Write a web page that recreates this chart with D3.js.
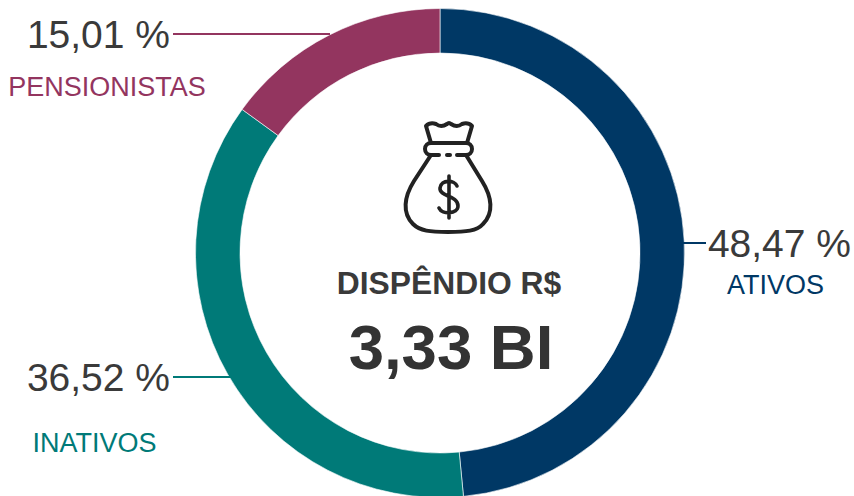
<!DOCTYPE html>
<html><head><meta charset="utf-8">
<script src="https://cdn.jsdelivr.net/npm/d3@7/dist/d3.min.js"></script>
<style>html,body{margin:0;background:#fff}svg{display:block}text{font-family:"Liberation Sans",Arial,sans-serif}</style>
</head><body><svg width="854" height="496"></svg>
<script>
const categories=["ATIVOS","INATIVOS","PENSIONISTAS"];
const shares=[48.47,36.52,15.01];
const shareLabels=["48,47 %","36,52 %","15,01 %"];
const colors=["#003865","#007a78","#93355f"];
const title="DISPÊNDIO R$";
const total="3,33 BI";

const svg=d3.select("svg");
const cx=440,cy=253,R=244.5,r0=200;
const pie=d3.pie().sort(null)(shares);
const arc=d3.arc().innerRadius(r0).outerRadius(R);
const g=svg.append("g").attr("transform",`translate(${cx},${cy})`);
g.selectAll("path").data(pie).join("path").attr("d",arc)
  .attr("fill",(d,i)=>colors[i]).attr("stroke","#fff").attr("stroke-width",0.6);

const lines=[[683,706,243],[173,232,377],[173,330,34]];
svg.selectAll("line.lead").data(lines).join("line").attr("class","lead")
  .attr("x1",d=>d[0]).attr("x2",d=>d[1]).attr("y1",d=>d[2]).attr("y2",d=>d[2])
  .attr("stroke",(d,i)=>colors[i]).attr("stroke-width",2);

const valPos=[[851,257],[170,391],[170,48]];
svg.selectAll("text.val").data(shareLabels).join("text").attr("class","val")
  .attr("x",(d,i)=>valPos[i][0]).attr("y",(d,i)=>valPos[i][1]).attr("text-anchor","end")
  .attr("font-size",39).attr("fill","#3a3a3a").text(d=>d);

const catPos=[[775.5,294],[94.5,452],[107,96]];
svg.selectAll("text.cat").data(categories).join("text").attr("class","cat")
  .attr("x",(d,i)=>catPos[i][0]).attr("y",(d,i)=>catPos[i][1]).attr("text-anchor","middle")
  .attr("font-size",27).attr("fill",(d,i)=>colors[i]).text(d=>d);

svg.append("text").attr("x",449).attr("y",294).attr("text-anchor","middle")
  .attr("font-size",31.8).attr("font-weight","bold").attr("fill","#3a3a3a").text(title);
svg.append("text").attr("x",451).attr("y",369).attr("text-anchor","middle")
  .attr("font-size",63.5).attr("font-weight","bold").attr("fill","#333").text(total);

const icon=svg.append("g").attr("fill","none").attr("stroke","#222").attr("stroke-width",4)
  .attr("stroke-linecap","round").attr("stroke-linejoin","round");
icon.append("path").attr("d","M431 143 L426 126 Q430 122 436 124 Q441 128 447 124 Q449 122 451 124 Q457 128 462 124 Q468 122 472 126 L467 143");
icon.append("path").attr("d","M431 143 H466 A6 6 0 0 1 466 155 H457 M431 143 A6 6 0 0 0 431 155 H439");
icon.append("path").attr("d","M447 155 H450");
icon.append("path").attr("d","M431 155 L414 181 C404 197 402 213 413 224 C420 231 430 232 448 232 C466 232 477 231 483 224 C494 213 492 197 482 181 L466 155");
icon.append("path").attr("d","M457 186 C455 180 441 179 440 188 C439 197 458 195 458 206 C458 214 442 215 439 208 M449 176 V218").attr("stroke-width",3.6);
</script></body></html>
